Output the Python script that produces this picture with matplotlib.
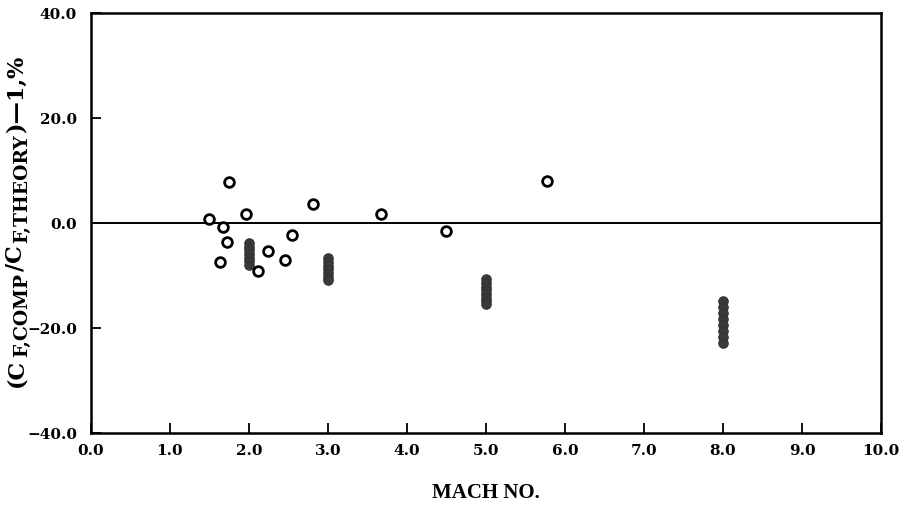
import matplotlib
matplotlib.use("Agg")
from matplotlib import pyplot as plt

# open symbols
mach_open = [1.50, 1.67, 1.75, 1.72, 1.63, 1.96, 2.12, 2.24, 2.45, 2.55, 2.81, 3.67, 4.50, 5.77]
err_open = [0.8, -0.7, 7.9, -3.6, -7.4, 1.8, -9.1, -5.3, -7.0, -2.3, 3.6, 1.7, -1.6, 8.0]

# filled symbols, stacked at each mach number
mach_filled = [2.0, 3.0, 5.0, 8.0]
err_filled = [
    [-3.8, -4.5, -5.2, -5.9, -6.6, -7.3, -8.0],
    [-6.7, -7.4, -8.1, -8.8, -9.5, -10.2, -10.8],
    [-10.7, -11.4, -12.1, -12.8, -13.5, -14.2, -14.8, -15.4],
    [-14.9, -16.0, -17.1, -18.2, -19.4, -20.5, -21.7, -22.8],
]

x_ticks = [0, 1, 2, 3, 4, 5, 6, 7, 8, 9, 10]
y_ticks = [-40, -20, 0, 20, 40]

# y label pieces: (text, is_subscript)
ylab_parts = [("(C", False), ("F,COMP", True), ("/C", False), ("F,THEORY", True), (")\u20141,%", False)]

fig = plt.figure(figsize=(9.06, 5.08), dpi=100)
ax = fig.add_axes([0.1004, 0.1476, 0.872, 0.8268])

ax.axhline(0, color="black", lw=1.4, zorder=1)

for m, ys in zip(mach_filled, err_filled):
    ax.plot([m] * len(ys), ys, "o", ms=6.8, mfc="#3a3a3a", mec="#333333", mew=0.8, ls="none", zorder=2)

ax.plot(mach_open, err_open, "o", ms=7, mfc="white", mec="black", mew=2.0, ls="none", zorder=3)

ax.set_xlim(0, 10)
ax.set_ylim(-40, 40)
ax.set_xticks(x_ticks)
ax.set_yticks(y_ticks)
ax.set_xticklabels(["%.1f" % v for v in x_ticks])
ax.set_yticklabels(["%.1f" % v if v >= 0 else "\u2212%.1f" % abs(v) for v in y_ticks])

for s in ax.spines.values():
    s.set_linewidth(1.8)
ax.tick_params(direction="in", length=7, width=1.3, top=False, right=False)
ax.tick_params(axis="x", pad=8)
ax.tick_params(axis="y", pad=10)
for lab in ax.get_xticklabels() + ax.get_yticklabels():
    lab.set_fontfamily("DejaVu Serif")
    lab.set_fontweight("bold")
    lab.set_fontsize(11)

ax.set_xlabel("MACH NO.", family="Liberation Serif", weight="bold", fontsize=15, labelpad=18)

# rotated y label built from pieces so subscripts stay fairly large
renderer = fig.canvas.get_renderer()
W, H = fig.bbox.width, fig.bbox.height
texts = []
for txt, sub in ylab_parts:
    t = fig.text(0, 0, txt, rotation=90, family="DejaVu Serif", weight="bold",
                 fontsize=13.5 if sub else 16, ha="left", va="bottom",
                 rotation_mode="anchor")
    texts.append((t, sub))
lengths = [t.get_window_extent(renderer).height + 2 for t, _ in texts]
total = sum(lengths)
y = (H - 220) - total / 2  # pixels from bottom of figure
x_base = 27
for (t, sub), L in zip(texts, lengths):
    xx = x_base + (4 if sub else 0)
    t.set_position((xx / W, y / H))
    y += L

plt.savefig("out.png", dpi=100)
